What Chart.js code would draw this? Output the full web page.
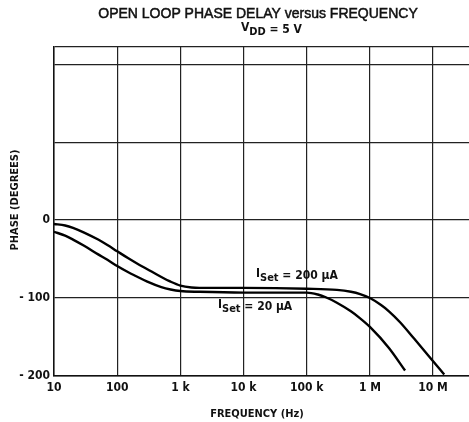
<!DOCTYPE html>
<html>
<head>
<meta charset="utf-8">
<script src="https://cdn.jsdelivr.net/npm/chart.js@4.4.1/dist/chart.umd.min.js"></script>
<style>
  html, body { margin: 0; padding: 0; background: #fff; }
  #wrap { width: 469px; height: 422px; }
</style>
</head>
<body>
<div id="wrap"><canvas id="phaseChart" width="469" height="422"></canvas></div>
<script>
// frequency (Hz) / phase (degrees)
const freq200 = [10, 15, 20, 30, 50, 70, 100, 150, 200, 300, 500, 700, 1000, 1500, 2000, 10000, 100000, 300000, 500000, 700000, 1000000, 1500000, 2000000, 3000000, 5000000, 10000000, 15000000];
const phase200 = [-5, -7, -10, -16, -25, -32, -40, -49, -55, -63, -73, -79, -84, -86.5, -87, -87, -88, -89.5, -92, -95, -100, -109, -117, -131, -152, -181, -198];

const freq20 = [10, 15, 20, 30, 50, 70, 100, 150, 200, 300, 500, 700, 1000, 2000, 10000, 100000, 150000, 200000, 300000, 500000, 700000, 1000000, 2000000, 3600000];
const phase20 = [-15, -20, -25, -33, -44, -51, -59, -67, -72, -79, -86, -89, -91, -92, -93, -93, -95.5, -99, -106, -117, -126, -137, -164, -193];

const xTicks = [10, 100, 1000, 10000, 100000, 1000000, 10000000];
const xTickLabels = ["10", "100", "1 k", "10 k", "100 k", "1 M", "10 M"];
const yTicks = [-200, -100, 0, 100, 200, 222];
const yTickLabels = { "-200": "- 200", "-100": "- 100", "0": "0" };

const FONT = "'Liberation Sans Narrow', 'DejaVu Sans Condensed', 'Liberation Sans', sans-serif";
const TITLE_FONT = "'Liberation Sans', Arial, sans-serif";

function toPoints(xs, ys) {
  return xs.map((x, i) => ({ x: x, y: ys[i] }));
}

// text with a subscript part: main, sub, rest
function drawSub(ctx, x, y, main, sub, rest, size) {
  ctx.font = "bold " + size + "px " + FONT;
  ctx.fillText(main, x, y - 2);
  x += ctx.measureText(main).width;
  ctx.font = "bold " + (size - 1) + "px " + FONT;
  ctx.fillText(sub, x, y + 2);
  x += ctx.measureText(sub).width;
  ctx.font = "bold " + size + "px " + FONT;
  ctx.fillText(rest, x, y);
}

const textPlugin = {
  id: "textPlugin",
  afterDraw(chart) {
    const ctx = chart.ctx;
    ctx.save();
    ctx.fillStyle = "#111";
    ctx.strokeStyle = "#111";
    ctx.textBaseline = "alphabetic";

    // title
    ctx.textAlign = "center";
    ctx.font = "14px " + TITLE_FONT;
    ctx.lineWidth = 0.5;
    ctx.fillText("OPEN LOOP PHASE DELAY versus FREQUENCY", 258, 18);
    ctx.strokeText("OPEN LOOP PHASE DELAY versus FREQUENCY", 258, 18);

    // subtitle
    ctx.textAlign = "left";
    drawSub(ctx, 241, 33, "V", "DD", " = 5 V", 12);

    // axis titles
    ctx.textAlign = "center";
    ctx.font = "bold 11px " + FONT;
    ctx.fillText("FREQUENCY (Hz)", 257, 417);
    ctx.save();
    ctx.translate(18, 200);
    ctx.rotate(-Math.PI / 2);
    ctx.fillText("PHASE (DEGREES)", 0, 0);
    ctx.restore();

    // curve labels
    ctx.textAlign = "left";
    drawSub(ctx, 256, 279, "I", "Set", " = 200 \u03bcA", 12);
    drawSub(ctx, 218, 310, "I", "Set", " = 20 \u03bcA", 12);
    ctx.restore();
  }
};

new Chart(document.getElementById("phaseChart").getContext("2d"), {
  type: "line",
  data: {
    datasets: [
      {
        label: "ISet = 200 \u03bcA",
        data: toPoints(freq200, phase200),
        borderColor: "#000",
        borderWidth: 2.4,
        pointRadius: 0,
        cubicInterpolationMode: "monotone",
        fill: false
      },
      {
        label: "ISet = 20 \u03bcA",
        data: toPoints(freq20, phase20),
        borderColor: "#000",
        borderWidth: 2.4,
        pointRadius: 0,
        cubicInterpolationMode: "monotone",
        fill: false
      }
    ]
  },
  options: {
    responsive: false,
    animation: false,
    layout: { padding: { top: 47, left: 0, right: 0, bottom: 0 } },
    plugins: {
      legend: { display: false },
      title: { display: false },
      tooltip: { enabled: false }
    },
    scales: {
      x: {
        type: "logarithmic",
        min: 10,
        max: 37000000,
        afterBuildTicks: (scale) => { scale.ticks = xTicks.map(v => ({ value: v })); },
        afterFit: (scale) => { scale.height = 46; },
        ticks: {
          autoSkip: false,
          maxRotation: 0,
          padding: 5,
          color: "#111",
          font: { family: FONT, size: 12, weight: "bold" },
          callback: (v) => xTickLabels[xTicks.indexOf(v)] ?? ""
        },
        grid: { color: "#222", lineWidth: 1.2, drawTicks: false },
        border: { color: "#111", width: 1.5 }
      },
      y: {
        min: -200,
        max: 222,
        afterBuildTicks: (scale) => { scale.ticks = yTicks.map(v => ({ value: v })); },
        afterFit: (scale) => { scale.width = 54; },
        ticks: {
          autoSkip: false,
          padding: 4,
          color: "#111",
          font: { family: FONT, size: 12, weight: "bold" },
          callback: (v) => yTickLabels[String(v)] ?? ""
        },
        grid: { color: "#222", lineWidth: 1.2, drawTicks: false },
        border: { color: "#111", width: 1.5 }
      }
    }
  },
  plugins: [textPlugin]
});
</script>
</body>
</html>
